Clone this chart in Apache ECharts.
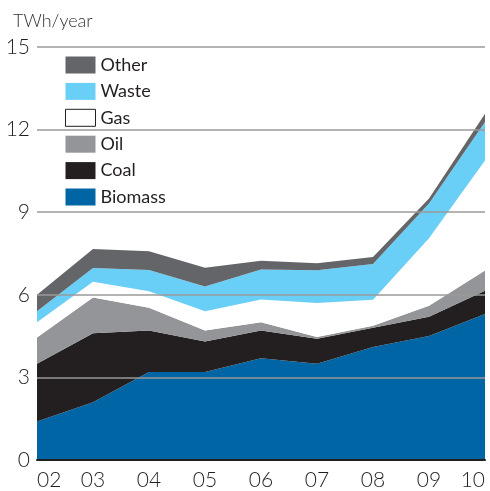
<!DOCTYPE html>
<html>
<head>
<meta charset="utf-8">
<script src="https://cdn.jsdelivr.net/npm/echarts@6/dist/echarts.min.js"></script>
<style>
  html, body { margin: 0; padding: 0; background: #fff; }
  #chart { width: 490px; height: 491px; }
</style>
</head>
<body>
<div id="chart"></div>
<script>
// years 2002-2010
const years = ['02', '03', '04', '05', '06', '07', '08', '09', '10']
const biomass = [1.4, 2.1, 3.2, 3.2, 3.7, 3.5, 4.1, 4.5, 5.3]
const coal = [2.1, 2.5, 1.5, 1.1, 1.0, 0.9, 0.7, 0.7, 0.85]
const oil = [0.95, 1.3, 0.83, 0.4, 0.3, 0.07, 0.08, 0.4, 0.73]
const gas = [0.55, 0.57, 0.6, 0.7, 0.83, 1.23, 0.94, 2.45, 4.0]
const waste = [0.4, 0.5, 0.77, 0.9, 1.09, 1.19, 1.3, 1.27, 1.4]
const other = [0.6, 0.69, 0.68, 0.68, 0.32, 0.26, 0.25, 0.18, 0.3]
const yTicks = [0, 3, 6, 9, 12, 15]

const font = 'Lato'
const chart = echarts.init(document.getElementById('chart'))

function area (name, data, color) {
  return {
    name: name,
    type: 'line',
    stack: 'total',
    data: data,
    symbol: 'none',
    lineStyle: { width: 0 },
    itemStyle: { color: color },
    areaStyle: { color: color, opacity: 1 }
  }
}

chart.setOption({
  animation: false,
  title: {
    text: 'TWh/year',
    left: 8,
    top: 7,
    textStyle: { fontFamily: font, fontWeight: 300, fontSize: 18, color: '#333' }
  },
  legend: {
    orient: 'vertical',
    left: 60,
    top: 51,
    itemWidth: 30,
    itemHeight: 17,
    itemGap: 8.4,
    icon: 'rect',
    textStyle: { fontFamily: font, fontWeight: 400, fontSize: 18, color: '#231f20' },
    data: [
      { name: 'Other' },
      { name: 'Waste' },
      { name: 'Gas', itemStyle: { color: '#fff', borderColor: '#231f20', borderWidth: 1 } },
      { name: 'Oil' },
      { name: 'Coal' },
      { name: 'Biomass' }
    ]
  },
  grid: { left: 37, right: 5, top: 47, bottom: 29 },
  xAxis: {
    type: 'category',
    data: years,
    boundaryGap: false,
    z: 10,
    axisLine: { lineStyle: { color: '#231f20', width: 2 } },
    axisTick: { show: false },
    axisLabel: {
      fontFamily: font, fontWeight: 300, fontSize: 21, color: '#231f20',
      margin: 10, alignMinLabel: 'left', alignMaxLabel: 'right'
    }
  },
  yAxis: {
    type: 'value',
    min: yTicks[0],
    max: yTicks[yTicks.length - 1],
    interval: 3,
    z: 10,
    axisLine: { show: false },
    axisTick: { show: false },
    splitLine: { lineStyle: { color: '#9a9a9a', width: 1.5 } },
    axisLabel: { fontFamily: font, fontWeight: 300, fontSize: 21, color: '#231f20', margin: 7 }
  },
  series: [
    area('Biomass', biomass, '#0065a5'),
    area('Coal', coal, '#231f20'),
    area('Oil', oil, '#939598'),
    area('Gas', gas, '#ffffff'),
    area('Waste', waste, '#6acff6'),
    area('Other', other, '#646569')
  ]
})
</script>
</body>
</html>
